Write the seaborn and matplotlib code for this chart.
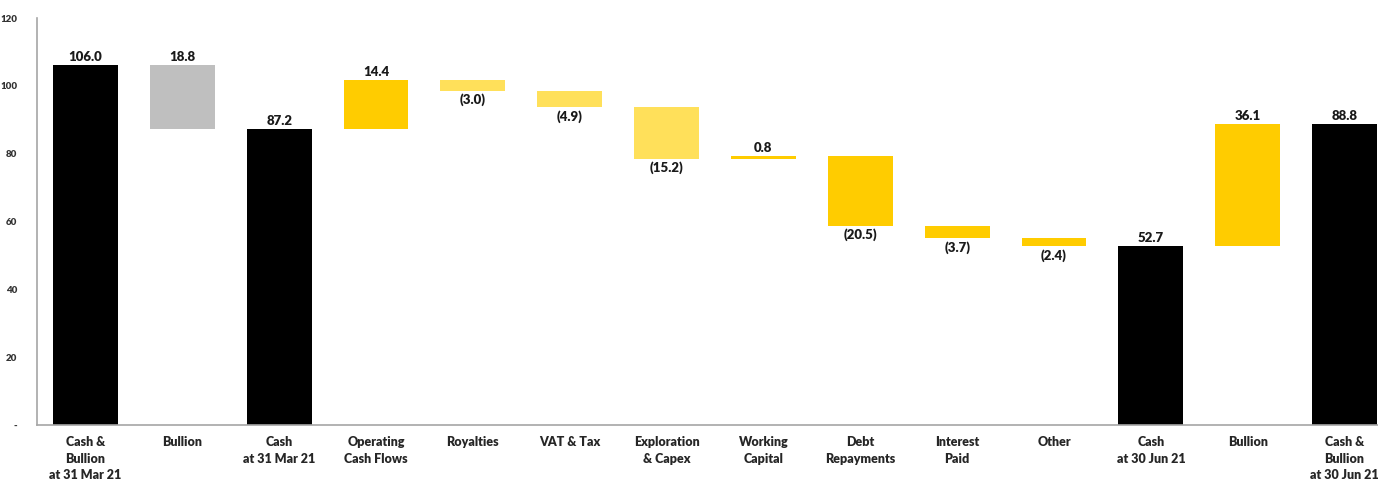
import matplotlib
matplotlib.use('Agg')
import matplotlib.pyplot as plt
import seaborn as sns
import numpy as np

categories = ['Cash &\nBullion\nat 31 Mar 21', 'Bullion', 'Cash\nat 31 Mar 21', 'Operating\nCash Flows',
              'Royalties', 'VAT & Tax', 'Exploration\n& Capex', 'Working\nCapital', 'Debt\nRepayments',
              'Interest\nPaid', 'Other', 'Cash\nat 30 Jun 21', 'Bullion', 'Cash &\nBullion\nat 30 Jun 21']
changes = [106.0, -18.8, 87.2, 14.4, -3.0, -4.9, -15.2, 0.8, -20.5, -3.7, -2.4, 52.7, 36.1, 88.8]
is_total = [True, False, True, False, False, False, False, False, False, False, False, True, False, True]
bar_colors = ['#000000', '#BFBFBF', '#000000', '#FFCC00', '#FFE05A', '#FFE05A', '#FFE05A', '#FFCC00',
              '#FFCC00', '#FFCC00', '#FFCC00', '#000000', '#FFCC00', '#000000']
value_labels = ['106.0', '18.8', '87.2', '14.4', '(3.0)', '(4.9)', '(15.2)', '0.8', '(20.5)',
                '(3.7)', '(2.4)', '52.7', '36.1', '88.8']

# running waterfall levels
bottoms, heights = [], []
level = 0.0
for chg, tot in zip(changes, is_total):
    if tot:
        bottoms.append(0.0)
        heights.append(chg)
        level = chg
    else:
        lo, hi = sorted([level, level + chg])
        bottoms.append(lo)
        heights.append(hi - lo)
        level = level + chg

sns.set_style('white')
plt.rcParams['font.family'] = ['Lato', 'DejaVu Sans']

fig = plt.figure(figsize=(13.78, 4.8), dpi=100)
ax = fig.add_axes([37 / 1378, 55 / 480, 1356 / 1378, 407 / 480])

pos = list(range(len(categories)))
sns.barplot(x=pos, y=heights, bottom=bottoms, width=0.67, ax=ax, color='#000000')
for patch, c in zip(ax.patches, bar_colors):
    patch.set_facecolor(c)
    patch.set_edgecolor('none')

for i, (b, h, chg, txt) in enumerate(zip(bottoms, heights, changes, value_labels)):
    if chg >= 0 or i == 1:
        ax.text(i, b + h + 0.6, txt, ha='center', va='bottom', fontsize=9.5,
                fontweight='heavy', color='#1a1a1a')
    else:
        ax.text(i, b - 0.8, txt, ha='center', va='top', fontsize=9.5,
                fontweight='heavy', color='#1a1a1a')

ax.set_xlim(-0.5, len(categories) - 0.5)
ax.set_ylim(0, 120)
ax.set_yticks(np.arange(0, 121, 20))
ax.set_yticklabels(['-'] + [str(v) for v in range(20, 121, 20)], fontsize=7, fontweight='heavy',
                   color='#333333')
ax.set_xticks(pos)
ax.set_xticklabels(categories, fontsize=9, fontweight='heavy', color='#262626', linespacing=1.45)
ax.tick_params(axis='x', length=0, pad=8)
ax.tick_params(axis='y', length=0, pad=14)

for s in ['top', 'right']:
    ax.spines[s].set_visible(False)
for s in ['left', 'bottom']:
    ax.spines[s].set_color('#A6A6A6')
    ax.spines[s].set_linewidth(1.2)

fig.savefig('out.png', dpi=100)
